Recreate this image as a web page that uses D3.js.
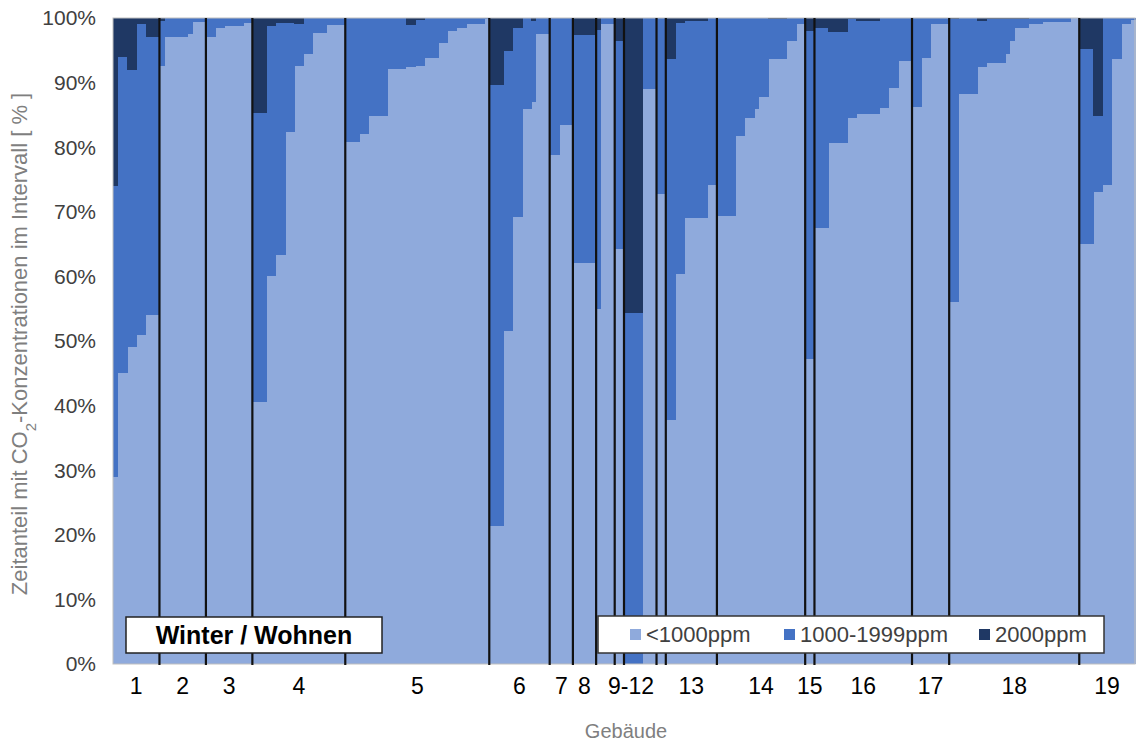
<!DOCTYPE html>
<html>
<head>
<meta charset="utf-8">
<script src="https://cdn.jsdelivr.net/npm/d3@7"></script>
<style>
  body { margin: 0; background: #fff; }
  svg { display: block; font-family: "Liberation Sans", Arial, sans-serif; }
</style>
</head>
<body>
<figure style="margin:0"></figure>
<script>
// one entry per (narrow) bar, rooms sorted inside each building
const building = [
  "1","1","1","1","1","1","1","1","1","1",
  "2","2","2","2","2","2","2","2","2","2",
  "3","3","3","3","3","3","3","3","3","3",
  "4","4","4","4","4","4","4","4","4","4","4","4","4","4","4","4","4","4","4","4",
  "5","5","5","5","5","5","5","5","5","5","5","5","5","5","5","5","5","5","5","5","5","5","5","5","5","5","5","5","5","5","5",
  "6","6","6","6","6","6","6","6","6","6","6","6","6",
  "7","7","7","7","7",
  "8","8","8","8","8",
  "9","9","9","9",
  "10","10",
  "11","11","11","11","11","11","11",
  "12","12",
  "13","13","13","13","13","13","13","13","13","13","13",
  "14","14","14","14","14","14","14","14","14","14","14","14","14","14","14","14","14","14","14",
  "15","15",
  "16","16","16","16","16","16","16","16","16","16","16","16","16","16","16","16","16","16","16","16","16",
  "17","17","17","17","17","17","17","17",
  "18","18","18","18","18","18","18","18","18","18","18","18","18","18","18","18","18","18","18","18","18","18","18","18","18","18","18","18",
  "19","19","19","19","19","19","19","19","19","19","19","19"
];

const below1000 = [
  29, 45, 45, 49, 49, 51, 51, 54, 54, 54,
  92.5, 97, 97, 97, 97, 97, 97.6, 99.4, 99.4, 99.4,
  97, 97, 98.4, 98.4, 98.8, 98.8, 98.8, 98.8, 99.3, 99.3,
  40.5, 40.5, 40.5, 60, 60, 63.3, 63.3, 82.3, 82.3, 92.6, 92.6, 94.4, 94.4, 97.7, 97.7, 97.7, 98.9, 98.9, 98.9, 98.9,
  80.8, 80.8, 80.8, 82.1, 82.1, 84.8, 84.8, 84.8, 84.8, 92.1, 92.1, 92.1, 92.1, 92.4, 92.4, 92.5, 92.5, 93.8, 93.8, 93.8, 96.1, 96.1, 98, 98, 98.5, 98.5, 99, 99, 99, 99, 99.8,
  21.4, 21.4, 21.4, 51.6, 51.6, 69.2, 69.2, 85.9, 85.9, 87, 97.6, 97.6, 97.6,
  78.8, 78.8, 83.5, 83.5, 83.5,
  62, 62, 62, 62, 62,
  54.9, 99, 99, 99,
  64.2, 64.2,
  0, 0, 0, 0, 89, 89, 89,
  72.7, 72.7,
  37.8, 37.8, 60.3, 60.3, 69, 69, 69, 69, 69, 74.2, 74.2,
  69.3, 69.3, 69.3, 69.3, 81.8, 81.8, 84.5, 84.5, 85.9, 87.8, 87.8, 93.7, 93.7, 93.7, 93.7, 96.5, 96.5, 99, 99,
  47.2, 47.2,
  67.5, 67.5, 67.5, 80.6, 80.6, 80.6, 80.6, 84.5, 84.5, 85.1, 85.1, 85.1, 85.1, 85.1, 86.1, 86.1, 89.2, 89.2, 93.3, 93.3, 93.3,
  86.2, 86.2, 93.8, 93.8, 99, 99, 99, 99,
  56, 56, 88.2, 88.2, 88.2, 88.2, 92.4, 92.4, 93, 93, 93, 93, 94.4, 96.5, 98.5, 98.5, 98.5, 99, 99, 99, 99.4, 99.4, 99.4, 99.4, 99.4, 99.4, 100, 100,
  65, 65, 65, 73, 73, 74.2, 74.2, 93.6, 93.6, 99, 99, 99.7
];

const from1000to1999 = [
  45, 49, 49, 43, 43, 48, 48, 43, 43, 43,
  7, 3, 3, 3, 3, 3, 2.4, 0.6, 0.6, 0.6,
  3, 3, 1.6, 1.6, 1.2, 1.2, 1.2, 1.2, 0.7, 0.7,
  44.8, 44.8, 44.8, 38.8, 38.8, 36, 36, 16.9, 16.9, 6.5, 6.5, 5.6, 5.6, 2.3, 2.3, 2.3, 1.1, 1.1, 1.1, 1.1,
  19.2, 19.2, 19.2, 17.9, 17.9, 15.2, 15.2, 15.2, 15.2, 7.9, 7.9, 7.9, 7.9, 6.5, 6.5, 7.2, 7.2, 6.2, 6.2, 6.2, 3.9, 3.9, 2, 2, 1.5, 1.5, 1, 1, 1, 1, 0.2,
  68.3, 68.3, 68.3, 43.3, 43.3, 29.3, 29.3, 14.1, 14.1, 12.6, 2.4, 2.4, 2.4,
  21.2, 21.2, 16.5, 16.5, 16.5,
  35.4, 35.4, 35.4, 35.4, 35.4,
  43.3, 1, 1, 1,
  32.3, 32.3,
  54.4, 54.4, 54.4, 54.4, 11, 11, 11,
  27.3, 27.3,
  55.8, 55.8, 38.9, 38.9, 30.5, 30.5, 30.5, 30.5, 30.5, 25.8, 25.8,
  30.7, 30.7, 30.7, 30.7, 18.2, 18.2, 15.5, 15.5, 14.1, 12.2, 12.2, 6.1, 6.1, 6.1, 6.1, 3.5, 3.5, 1, 1,
  50.8, 50.8,
  31, 31, 31, 17.2, 17.2, 17.2, 17.2, 15.3, 15.3, 14.4, 14.4, 14.4, 14.4, 14.4, 13.9, 13.9, 10.8, 10.8, 6.7, 6.7, 6.7,
  13.8, 13.8, 6.2, 6.2, 1, 1, 1, 1,
  43.8, 43.8, 11.8, 11.8, 11.8, 11.8, 7.1, 7.1, 6.8, 6.8, 6.8, 6.8, 5.4, 3.3, 1.3, 1.3, 1.3, 1, 1, 1, 0.6, 0.6, 0.6, 0.6, 0.6, 0.6, 0, 0,
  30.2, 30.2, 30.2, 11.8, 11.8, 25.8, 25.8, 6.4, 6.4, 1, 1, 0.3
];

const above2000 = [
  26, 6, 6, 8, 8, 1, 1, 3, 3, 3,
  0.5, 0, 0, 0, 0, 0, 0, 0, 0, 0,
  0, 0, 0, 0, 0, 0, 0, 0, 0, 0,
  14.7, 14.7, 14.7, 1.2, 1.2, 0.7, 0.7, 0.8, 0.8, 0.9, 0.9, 0, 0, 0, 0, 0, 0, 0, 0, 0,
  0, 0, 0, 0, 0, 0, 0, 0, 0, 0, 0, 0, 0, 1.1, 1.1, 0.3, 0.3, 0, 0, 0, 0, 0, 0, 0, 0, 0, 0, 0, 0, 0, 0,
  10.3, 10.3, 10.3, 5.1, 5.1, 1.5, 1.5, 0, 0, 0.4, 0, 0, 0,
  0, 0, 0, 0, 0,
  2.6, 2.6, 2.6, 2.6, 2.6,
  1.8, 0, 0, 0,
  3.5, 3.5,
  45.6, 45.6, 45.6, 45.6, 0, 0, 0,
  0, 0,
  6.4, 6.4, 0.8, 0.8, 0.5, 0.5, 0.5, 0.5, 0.5, 0, 0,
  0, 0, 0, 0, 0, 0, 0, 0, 0, 0, 0, 0.2, 0.2, 0.2, 0.2, 0, 0, 0, 0,
  2, 2,
  1.5, 1.5, 1.5, 2.2, 2.2, 2.2, 2.2, 0.2, 0.2, 0.5, 0.5, 0.5, 0.5, 0.5, 0, 0, 0, 0, 0, 0, 0,
  0, 0, 0, 0, 0, 0, 0, 0,
  0.2, 0.2, 0, 0, 0, 0, 0.5, 0.5, 0.2, 0.2, 0.2, 0.2, 0.2, 0.2, 0.2, 0.2, 0.2, 0, 0, 0, 0, 0, 0, 0, 0, 0, 0, 0,
  4.8, 4.8, 4.8, 15.2, 15.2, 0, 0, 0, 0, 0, 0, 0
];

// axis labels below the groups, buildings 9 to 12 share one label
const tickLabels = ["1", "2", "3", "4", "5", "6", "7", "8", "9-12", "13", "14", "15", "16", "17", "18", "19"];
const yTicks = [0, 10, 20, 30, 40, 50, 60, 70, 80, 90, 100];
const seriesNames = ["<1000ppm", "1000-1999ppm", "2000ppm"];
const colors = ["#8faadc", "#4472c4", "#1f3864"];

const width = 1137, height = 742;
const plotLeft = 113, plotRight = 1135, plotTop = 18, plotBottom = 664;

const svg = d3.select("figure")
  .append("svg")
  .attr("width", width)
  .attr("height", height);

const x = d3.scaleBand()
  .domain(d3.range(building.length))
  .range([plotLeft, plotRight])
  .padding(0);

const y = d3.scaleLinear()
  .domain([0, 100])
  .range([plotBottom, plotTop]);

// table for d3.stack
const table = building.map((b, i) => ({
  i: i,
  low: below1000[i],
  mid: from1000to1999[i],
  high: above2000[i]
}));

const stack = d3.stack().keys(["low", "mid", "high"]);
const layers = stack(table);

svg.selectAll("g.layer")
  .data(layers)
  .enter()
  .append("g")
  .attr("class", "layer")
  .attr("fill", (d, i) => colors[i])
  .selectAll("rect")
  .data(d => d)
  .enter()
  .append("rect")
  .attr("x", d => x(d.data.i))
  .attr("width", x.bandwidth() + 0.7)
  .attr("y", d => y(d[1]))
  .attr("height", d => Math.max(0, y(d[0]) - y(d[1])))
  .attr("shape-rendering", "crispEdges");

// plot frame
svg.append("rect")
  .attr("x", plotLeft)
  .attr("y", plotTop)
  .attr("width", plotRight - plotLeft)
  .attr("height", plotBottom - plotTop)
  .attr("fill", "none")
  .attr("stroke", "#bfbfbf")
  .attr("stroke-width", 1);

// black separators between buildings
const breaks = d3.range(1, building.length).filter(i => building[i] !== building[i - 1]);
svg.selectAll("line.sep")
  .data(breaks)
  .enter()
  .append("line")
  .attr("class", "sep")
  .attr("x1", i => x(i))
  .attr("x2", i => x(i))
  .attr("y1", plotTop)
  .attr("y2", plotBottom + 1)
  .attr("stroke", "#111")
  .attr("stroke-width", 2.2);

// y axis labels
svg.selectAll("text.ytick")
  .data(yTicks)
  .enter()
  .append("text")
  .attr("class", "ytick")
  .attr("x", 96)
  .attr("y", d => y(d))
  .attr("dy", "0.35em")
  .attr("text-anchor", "end")
  .attr("fill", "#404040")
  .style("font-size", "21px")
  .text(d => d + "%");

// building labels centred under their groups
const labelOf = b => (+b >= 9 && +b <= 12) ? "9-12" : b;
const groupPos = tickLabels.map(t => {
  const idx = d3.range(building.length).filter(i => labelOf(building[i]) === t);
  return { t: t, cx: (x(d3.min(idx)) + x(d3.max(idx)) + x.bandwidth()) / 2 };
});

svg.selectAll("text.xtick")
  .data(groupPos)
  .enter()
  .append("text")
  .attr("class", "xtick")
  .attr("x", d => d.cx)
  .attr("y", 694)
  .attr("text-anchor", "middle")
  .attr("fill", "#000")
  .style("font-size", "23px")
  .text(d => d.t);

// axis titles
svg.append("text")
  .attr("x", 626)
  .attr("y", 738)
  .attr("text-anchor", "middle")
  .attr("fill", "#7f7f7f")
  .style("font-size", "20px")
  .text("Gebäude");

const yt = svg.append("text")
  .attr("transform", "translate(27,344) rotate(-90)")
  .attr("text-anchor", "middle")
  .attr("fill", "#7f7f7f")
  .style("font-size", "22px");
yt.append("tspan").text("Zeitanteil mit CO");
yt.append("tspan").attr("baseline-shift", "sub").style("font-size", "15px").text("2");
yt.append("tspan").text("-Konzentrationen im Intervall [ % ]");

// "Winter / Wohnen" box
svg.append("rect")
  .attr("x", 126)
  .attr("y", 617)
  .attr("width", 256)
  .attr("height", 36)
  .attr("fill", "#fff")
  .attr("stroke", "#222")
  .attr("stroke-width", 1.5);

svg.append("text")
  .attr("x", 254)
  .attr("y", 644)
  .attr("text-anchor", "middle")
  .attr("fill", "#000")
  .style("font-size", "25px")
  .style("font-weight", "bold")
  .text("Winter / Wohnen");

// legend
svg.append("rect")
  .attr("x", 598)
  .attr("y", 616)
  .attr("width", 506)
  .attr("height", 37)
  .attr("fill", "#fff")
  .attr("stroke", "#333")
  .attr("stroke-width", 1.5);

const legendX = [630, 784, 979];
const legend = svg.selectAll("g.legend")
  .data(seriesNames)
  .enter()
  .append("g")
  .attr("class", "legend")
  .attr("transform", (d, i) => "translate(" + legendX[i] + ",634.5)");

legend.append("rect")
  .attr("x", 0)
  .attr("y", -5.5)
  .attr("width", 11)
  .attr("height", 11)
  .attr("fill", (d, i) => colors[i]);

legend.append("text")
  .attr("x", 16)
  .attr("dy", "0.35em")
  .attr("fill", "#404040")
  .style("font-size", "22px")
  .text(d => d);
</script>
</body>
</html>
